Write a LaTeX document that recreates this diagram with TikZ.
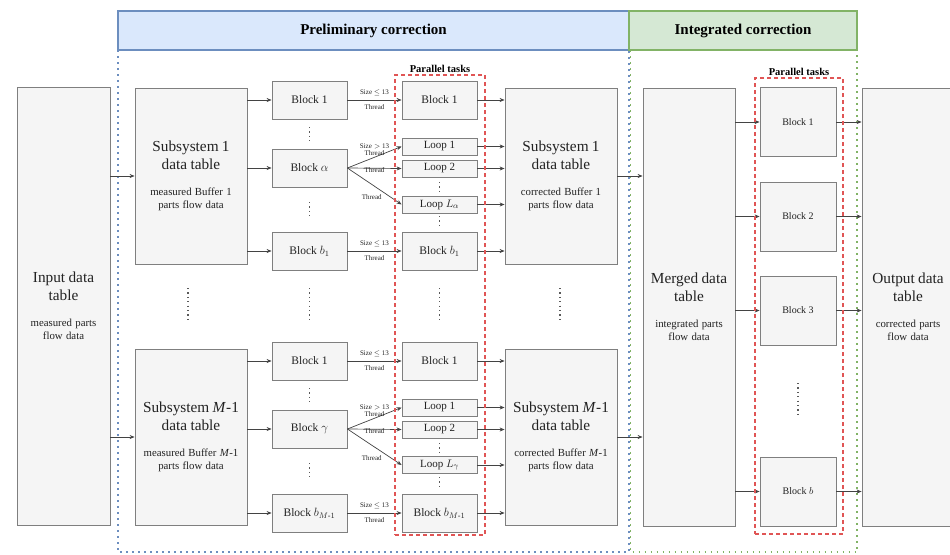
\documentclass[tikz,border=0pt]{standalone}
\usepackage{fontspec}
\setmainfont{Liberation Serif}
\usepackage{amsmath}
\usetikzlibrary{arrows.meta,positioning}
\definecolor{boxfill}{HTML}{F5F5F5}
\definecolor{boxline}{HTML}{7F7F7F}
\definecolor{ink}{HTML}{222222}
\definecolor{bluebg}{HTML}{DAE8FC}
\definecolor{blueline}{HTML}{6C8EBF}
\definecolor{greenbg}{HTML}{D5E8D4}
\definecolor{greenline}{HTML}{82B366}
\definecolor{redline}{HTML}{E05555}
\newcommand{\tabtext}[2]{{\fontsize{15.3}{18}\selectfont #1\par}\vspace{13pt}%
  {\fontsize{10.8}{13}\selectfont #2\par}}
\tikzset{
  tablebox/.style={draw=boxline,fill=boxfill,line width=0.8pt,align=center,
                   inner sep=2pt,text=ink},
  subbox/.style={tablebox,minimum width=112pt,minimum height=176pt,text width=108pt},
  tallbox/.style={tablebox,minimum height=438pt,text width=88pt},
  blockbox/.style={tablebox,minimum width=75pt,minimum height=38pt,
                   font=\fontsize{11.5}{13}\selectfont},
  loopbox/.style={tablebox,minimum width=75pt,minimum height=17pt,
                  font=\fontsize{11}{12}\selectfont},
  rblockbox/.style={tablebox,minimum width=76pt,minimum height=69pt,
                    font=\fontsize{10}{12}\selectfont},
  headblue/.style={draw=blueline,fill=bluebg,line width=1.6pt,
                   minimum width=511pt,minimum height=39pt,
                   font=\fontsize{15}{17}\selectfont\bfseries},
  headgreen/.style={draw=greenline,fill=greenbg,line width=1.6pt,
                    minimum width=228pt,minimum height=39pt,
                    font=\fontsize{15}{17}\selectfont\bfseries},
  taskbox/.style={draw=redline,line width=1.1pt,dash pattern=on 4pt off 3pt,
                  inner sep=0pt},
  tasklabel/.style={font=\fontsize{10.5}{12}\selectfont\bfseries,inner sep=1pt},
  edgetag/.style={font=\fontsize{7}{8}\selectfont,text=ink,inner sep=1pt,
                  align=center},
  arr/.style={-{Stealth[length=5pt,width=4pt]},line width=0.7pt,draw=ink!85},
  vdot/.style={line width=1.2pt,draw=ink!75,dash pattern=on 1.2pt off 3.2pt},
  bluedot/.style={draw=blueline,line width=1.8pt,dash pattern=on 1.8pt off 4.2pt},
  greendot/.style={draw=greenline,line width=1.8pt,dash pattern=on 1.8pt off 4.2pt}
}

\begin{document}
\begin{tikzpicture}[x=1pt,y=-1pt]
    \path[use as bounding box] (0,0) rectangle (950,554);
    % regions
    \draw[bluedot] (118,50) rectangle (629,552);
    \draw[greendot] (630.5,50) rectangle (857,552);
    \node[headblue] (hprel) at (373.5,30.5) {Preliminary correction};
    \node[headgreen] (hint) at (743,30.5) {Integrated correction};
    % input and subsystem tables
    \node[tallbox,minimum width=93pt] (input) at (63.5,306)
      {\tabtext{Input data\\table}{measured parts\\flow data}};
    \node[subbox] (sub1in) at (191,176)
      {\tabtext{Subsystem 1\\data table}{measured Buffer 1\\parts flow data}};
    \node[subbox] (subMin) at (191,437)
      {\tabtext{Subsystem \textit{M}-1\\data table}{measured Buffer \textit{M}-1\\parts flow data}};
    \draw[vdot] (188,288) -- (188,320);
    % blocks per subsystem
    \node[blockbox] (b11) at (309.5,100) {Block 1};
    \node[blockbox] (b1a) at (309.5,168) {Block $\alpha$};
    \node[blockbox] (b1b) at (309.5,251) {Block $b_1$};
    \node[blockbox] (bM1) at (309.5,361) {Block 1};
    \node[blockbox] (bMg) at (309.5,429) {Block $\gamma$};
    \node[blockbox] (bMb) at (309.5,513) {Block $b_{M\text{-}1}$};
    \draw[vdot] (309.5,127) -- (309.5,141);
    \draw[vdot] (309.5,202) -- (309.5,216);
    \draw[vdot] (309.5,288) -- (309.5,320);
    \draw[vdot] (309.5,388) -- (309.5,402);
    \draw[vdot] (309.5,463) -- (309.5,477);
    \foreach \s/\b in {sub1in/b11,sub1in/b1a,sub1in/b1b,subMin/bM1,subMin/bMg,subMin/bMb}
      \draw[arr] (\s.east |- \b.west) -- (\b.west);
    \draw[arr] (input.east |- sub1in.west) -- (sub1in.west);
    \draw[arr] (input.east |- subMin.west) -- (subMin.west);
    % parallel tasks of the preliminary correction
    \node[blockbox] (t11) at (439.5,100) {Block 1};
    \node[loopbox] (l1a1) at (439.5,146.5) {Loop 1};
    \node[loopbox] (l1a2) at (439.5,168.5) {Loop 2};
    \node[loopbox] (l1aL) at (439.5,204.5) {Loop $L_\alpha$};
    \node[blockbox] (t1b) at (439.5,251) {Block $b_1$};
    \node[blockbox] (tM1) at (439.5,361) {Block 1};
    \node[loopbox] (lMg1) at (439.5,407.5) {Loop 1};
    \node[loopbox] (lMg2) at (439.5,429.5) {Loop 2};
    \node[loopbox] (lMgL) at (439.5,465) {Loop $L_\gamma$};
    \node[blockbox] (tMb) at (439.5,513) {Block $b_{M\text{-}1}$};
    \draw[vdot] (439.5,182) -- (439.5,194);
    \draw[vdot] (439.5,216) -- (439.5,229);
    \draw[vdot] (439.5,288) -- (439.5,320);
    \draw[vdot] (439.5,443) -- (439.5,455);
    \draw[vdot] (439.5,477) -- (439.5,490);
    \foreach \a/\t in {b11/t11,b1b/t1b,bM1/tM1,bMb/tMb}
      \draw[arr] (\a) -- node[edgetag,above=3pt] {Size $\leq$ 13}
        node[edgetag,below=3pt] {Thread} (\t);
    \foreach \a/\p/\q/\r in {b1a/l1a1/l1a2/l1aL,bMg/lMg1/lMg2/lMgL}{
      \draw[arr] (\a.east) -- node[edgetag,above=0pt] {Size\,\,$>$ 13\\[-1pt]Thread} (\p.west);
      \draw[arr] (\a.east) -- node[edgetag,below=-2pt] {Thread} (\q.west);
      \draw[arr] (\a.east) -- node[edgetag,pos=0.45,below=9pt] {Thread} (\r.west);
    }
    % corrected subsystem tables
    \node[subbox] (sub1out) at (561,176)
      {\tabtext{Subsystem 1\\data table}{corrected Buffer 1\\parts flow data}};
    \node[subbox] (subMout) at (561,437)
      {\tabtext{Subsystem \textit{M}-1\\data table}{corrected Buffer \textit{M}-1\\parts flow data}};
    \draw[vdot] (560,288) -- (560,320);
    \foreach \t/\s in {t11/sub1out,l1a1/sub1out,l1a2/sub1out,l1aL/sub1out,t1b/sub1out,
                       tM1/subMout,lMg1/subMout,lMg2/subMout,lMgL/subMout,tMb/subMout}
      \draw[arr] (\t.east) -- (\s.west |- \t.east);
    % integrated correction
    \node[tallbox,minimum width=92pt] (merged) at (689,307)
      {\tabtext{Merged data\\table}{integrated parts\\flow data}};
    \draw[arr] (sub1out.east) -- (merged.west |- sub1out.east);
    \draw[arr] (subMout.east) -- (merged.west |- subMout.east);
    \node[rblockbox] (q1) at (798,122) {Block 1};
    \node[rblockbox] (q2) at (798,216.5) {Block 2};
    \node[rblockbox] (q3) at (798,310.5) {Block 3};
    \node[rblockbox] (qb) at (798,491.5) {Block $b$};
    \draw[vdot] (798,383) -- (798,415);
    \node[tallbox,minimum width=92pt] (output) at (908,307)
      {\tabtext{Output data\\table}{corrected parts\\flow data}};
    \foreach \q in {q1,q2,q3,qb}{
      \draw[arr] (merged.east |- \q.west) -- (\q.west);
      \draw[arr] (\q.east) -- (output.west |- \q.east);
    }
    % parallel task frames
    \node[taskbox,minimum width=90pt,minimum height=460pt] (par1) at (440,305) {};
    \node[tasklabel,above=1pt of par1] {Parallel tasks};
    \node[taskbox,minimum width=88pt,minimum height=456pt] (par2) at (799,306) {};
    \node[tasklabel,above=1pt of par2] {Parallel tasks};
\end{tikzpicture}
\end{document}
